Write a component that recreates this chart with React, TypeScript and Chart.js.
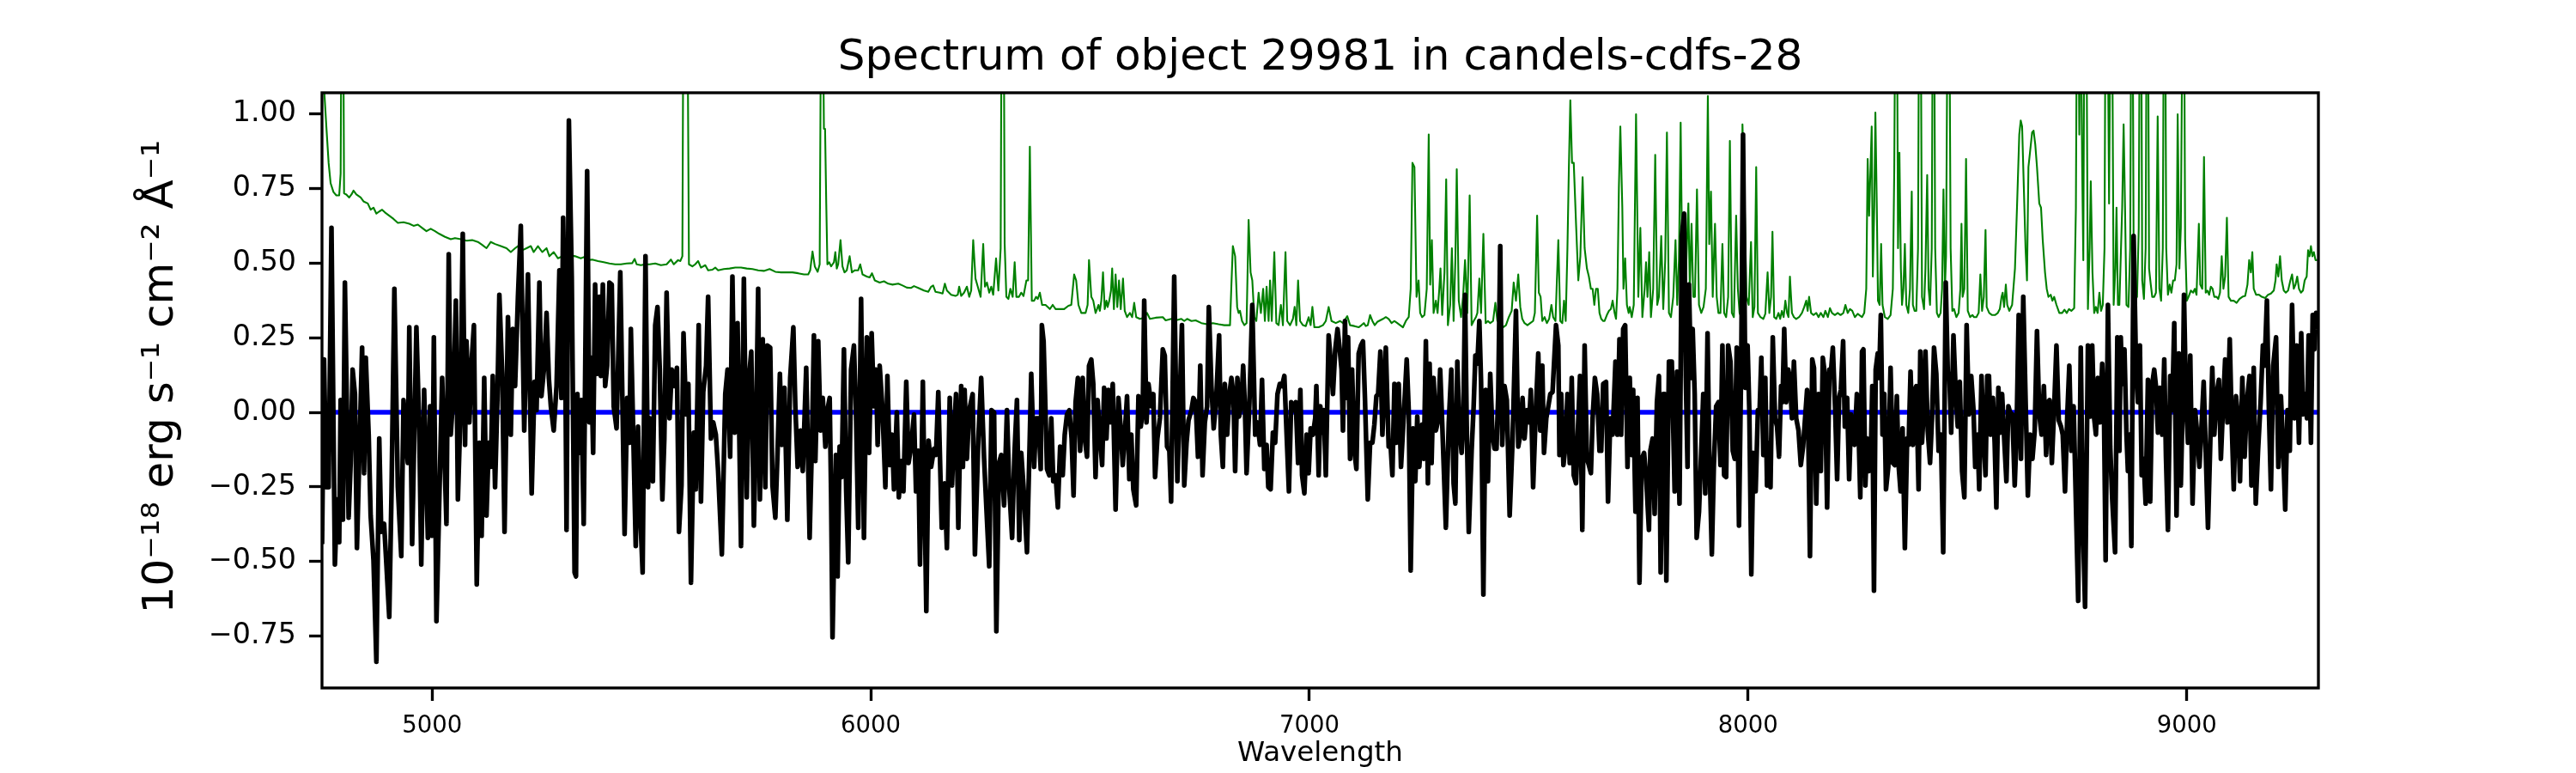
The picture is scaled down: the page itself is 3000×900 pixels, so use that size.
import { useEffect, useRef } from "react";
import { Chart, registerables } from "chart.js";

Chart.register(...registerables);

const TITLE = "Spectrum of object 29981 in candels-cdfs-28";
const X_LABEL = "Wavelength";
const Y_LABEL = "10\u207B\u00B9\u2078 erg s\u207B\u00B9 cm\u207B\u00B2 \u00C5\u207B\u00B9";

const xTicks = [5000, 6000, 7000, 8000, 9000];
const yTicks = [-0.75, -0.5, -0.25, 0, 0.25, 0.5, 0.75, 1.0];
const X_MIN = 4749;
const X_MAX = 9300;
const Y_MIN = -0.924;
const Y_MAX = 1.071;

// observed spectrum (black): [wavelength, flux]
const spectrum: [number, number][] = [
  [4749.1,-0.442],[4753.6,0.177],[4758.9,-0.251],[4764.1,-0.251],[4770.6,0.618],[4778.4,-0.510],[4783.6,-0.292],[4788.2,-0.435],[4791.5,0.041],[4796.7,-0.360],[4801.2,0.435],[4809.7,-0.353],[4814.3,-0.170],[4818.8,0.143],[4824.1,0.061],[4828.6,-0.455],[4840.4,0.217],[4844.9,-0.204],[4848.8,0.183],[4855.4,-0.075],[4859.9,-0.346],[4866.4,-0.496],[4873.0,-0.836],[4879.5,-0.088],[4884.0,-0.401],[4890.6,-0.374],[4895.8,-0.510],[4902.3,-0.686],[4907.5,-0.265],[4914.0,0.414],[4921.9,-0.251],[4929.7,-0.482],[4934.9,0.041],[4940.1,-0.088],[4944.7,-0.170],[4948.0,0.285],[4954.5,-0.442],[4964.2,0.285],[4970.8,-0.061],[4975.3,-0.510],[4981.8,0.075],[4990.3,-0.421],[4995.5,0.020],[5000.1,-0.414],[5004.0,0.251],[5009.9,-0.700],[5022.9,0.115],[5032.7,-0.374],[5037.9,0.530],[5042.5,-0.075],[5049.0,0.075],[5054.2,0.374],[5058.8,-0.292],[5064.0,-0.034],[5069.9,0.598],[5075.1,-0.109],[5078.3,0.238],[5084.9,-0.034],[5090.1,0.170],[5095.3,0.292],[5101.8,-0.577],[5107.7,-0.102],[5112.9,-0.414],[5118.8,0.115],[5124.0,-0.346],[5129.2,-0.102],[5133.8,-0.183],[5138.3,0.122],[5143.5,-0.251],[5148.8,0.041],[5153.3,0.394],[5159.8,0.129],[5165.1,-0.401],[5172.9,0.319],[5179.4,-0.075],[5184.0,0.279],[5189.2,0.088],[5195.7,0.387],[5202.2,0.625],[5210.0,-0.061],[5218.5,0.462],[5227.0,-0.272],[5233.5,0.102],[5238.1,0.007],[5244.6,0.435],[5249.2,0.054],[5255.7,0.156],[5260.9,0.333],[5266.1,0.115],[5270.7,0.020],[5277.2,-0.061],[5283.7,0.088],[5290.2,0.476],[5294.8,0.048],[5298.7,0.652],[5303.3,0.251],[5306.5,-0.394],[5311.8,0.978],[5318.3,0.455],[5324.8,-0.537],
  [5328.0,-0.550],[5331.2,0.061],[5335.8,-0.136],[5340.3,0.041],[5345.6,-0.374],[5353.4,0.808],[5358.6,-0.034],[5362.5,0.183],[5367.1,-0.136],[5371.6,0.428],[5376.9,0.129],[5381.4,0.387],[5384.7,0.122],[5389.2,0.428],[5394.5,0.088],[5399.0,0.156],[5404.2,0.435],[5409.5,0.428],[5414.0,0.020],[5420.5,-0.054],[5429.0,0.469],[5433.6,0.061],[5438.8,-0.408],[5444.7,0.048],[5449.9,-0.102],[5453.1,0.279],[5458.4,-0.061],[5464.2,-0.448],[5469.4,-0.048],[5474.7,-0.346],[5479.9,-0.537],[5486.4,0.523],[5492.3,-0.251],[5496.8,-0.020],[5503.3,-0.231],[5508.6,0.292],[5513.8,0.353],[5519.0,0.143],[5524.9,-0.292],[5529.4,-0.088],[5534.6,0.401],[5541.2,-0.020],[5546.4,0.143],[5551.6,0.088],[5558.1,0.149],[5562.7,-0.401],[5568.5,-0.245],[5573.1,0.265],[5579.0,-0.007],[5584.2,0.095],[5590.1,-0.571],[5596.6,-0.068],[5601.1,-0.258],[5607.7,0.292],[5612.9,-0.299],[5618.1,0.068],[5624.6,0.156],[5629.2,0.387],[5635.7,-0.088],[5640.9,-0.034],[5646.8,-0.075],[5652.0,-0.197],[5660.5,-0.476],[5668.3,0.061],[5673.5,0.143],[5679.4,-0.149],[5684.6,0.455],[5689.8,-0.068],[5696.3,0.299],[5704.2,-0.448],[5710.7,0.448],[5717.2,-0.285],[5722.4,0.115],[5727.6,0.204],[5733.5,-0.380],[5738.7,-0.041],[5743.3,0.414],[5747.2,-0.292],[5753.7,0.245],[5759.6,-0.251],[5764.1,0.224],[5770.7,0.217],[5775.9,-0.245],[5782.4,-0.353],[5787.6,-0.129],[5792.8,0.129],[5797.4,-0.109],[5803.3,0.082],[5809.8,-0.360],[5816.3,0.115],[5823.5,0.285],[5828.0,0.020],[5833.3,-0.183],[5839.8,-0.061],[5845.0,-0.197],[5852.8,0.149],[5860.6,-0.421],[5865.9,-0.102],[5870.4,0.258],[5873.7,-0.163],[5880.2,0.238],[5885.4,-0.061],[5890.6,0.048],[5896.5,-0.115],[5901.1,0.007],[5906.3,0.048],[5909.5,-0.265],[5912.8,-0.754],
  [5920.5,-0.143],[5924.4,-0.550],[5929.0,-0.115],[5933.6,-0.217],[5938.8,0.211],[5944.0,-0.265],[5948.6,-0.503],[5955.1,0.143],[5961.6,0.224],[5966.2,0.007],[5971.4,-0.387],[5977.9,0.380],[5984.4,-0.421],[5991.0,0.251],[5996.2,-0.136],[6002.0,0.265],[6007.2,0.020],[6011.8,0.143],[6015.7,-0.109],[6020.3,0.156],[6026.8,0.007],[6033.3,-0.251],[6037.9,0.122],[6043.1,-0.177],[6048.3,-0.075],[6052.9,-0.258],[6059.4,0.000],[6064.0,-0.285],[6069.2,-0.163],[6074.4,-0.265],[6080.9,0.102],[6086.1,-0.170],[6092.0,-0.115],[6098.5,-0.007],[6103.1,-0.265],[6108.3,-0.129],[6112.2,-0.510],[6118.7,0.102],[6126.6,-0.666],[6131.8,-0.095],[6137.6,-0.183],[6144.2,-0.122],[6148.7,-0.143],[6153.9,0.068],[6161.8,-0.387],[6168.3,-0.238],[6173.5,-0.455],[6180.0,0.048],[6185.2,-0.245],[6189.8,-0.061],[6194.4,0.061],[6199.6,-0.387],[6206.1,0.088],[6210.0,-0.183],[6213.9,0.075],[6219.1,-0.156],[6224.4,0.007],[6232.2,0.061],[6237.4,-0.476],[6245.2,-0.088],[6251.7,0.115],[6258.3,-0.156],[6263.5,-0.319],[6270.0,-0.516],[6275.2,0.007],[6281.1,0.000],[6286.3,-0.734],[6292.2,-0.170],[6297.4,-0.143],[6303.9,-0.312],[6310.4,0.007],[6315.6,-0.251],[6322.2,-0.421],[6327.4,-0.143],[6333.2,0.041],[6338.5,-0.428],[6343.0,-0.136],[6348.2,-0.251],[6356.1,-0.469],[6362.6,-0.075],[6365.8,0.129],[6372.4,-0.183],[6376.9,-0.020],[6382.1,-0.020],[6387.4,-0.190],[6390.0,0.292],[6393.9,0.238],[6396.5,0.102],[6401.7,-0.190],[6406.9,-0.211],[6411.5,-0.020],[6416.0,-0.231],[6421.3,-0.211],[6426.5,-0.319],[6431.7,-0.115],[6437.6,-0.211],[6442.1,-0.075],[6447.3,-0.007],[6452.6,0.007],[6457.8,-0.088],[6462.3,-0.279],[6466.9,0.034],[6472.1,0.115],[6477.3,-0.129],[6483.2,0.115],[6487.8,-0.088],[6493.0,-0.149],[6497.5,0.156],
  [6502.7,0.177],[6507.2,0.095],[6512.4,-0.217],[6517.0,0.041],[6522.2,-0.075],[6527.4,-0.177],[6532.0,0.082],[6537.2,-0.088],[6541.8,0.075],[6546.3,-0.034],[6551.6,0.095],[6558.1,-0.326],[6564.6,0.048],[6569.8,-0.054],[6574.4,-0.177],[6578.9,-0.075],[6584.2,0.054],[6589.4,-0.224],[6593.9,-0.075],[6598.5,-0.258],[6605.0,-0.312],[6610.2,0.054],[6615.5,-0.048],[6620.0,0.007],[6623.3,0.374],[6628.5,-0.034],[6633.1,0.095],[6639.6,0.020],[6644.1,0.061],[6648.1,-0.217],[6653.3,-0.088],[6659.1,-0.020],[6665.7,0.211],[6670.2,0.190],[6675.4,-0.115],[6680.7,-0.129],[6684.6,-0.299],[6691.7,0.455],[6698.9,-0.231],[6704.8,0.061],[6709.3,0.292],[6714.6,-0.245],[6719.8,-0.102],[6724.3,-0.027],[6730.9,0.007],[6735.4,0.048],[6740.6,0.034],[6745.9,-0.149],[6751.1,0.156],[6756.3,-0.211],[6761.5,-0.034],[6766.7,0.020],[6770.6,0.353],[6776.5,0.088],[6781.7,-0.054],[6787.6,0.048],[6794.1,0.258],[6798.0,-0.075],[6802.6,-0.183],[6807.1,0.095],[6812.4,-0.075],[6817.6,0.061],[6822.1,0.115],[6826.7,0.061],[6830.6,-0.197],[6835.8,0.115],[6839.7,-0.014],[6845.0,0.034],[6848.9,0.156],[6852.8,0.020],[6856.7,-0.204],[6863.2,0.034],[6869.7,0.360],[6876.3,-0.075],[6881.5,-0.034],[6887.3,-0.109],[6891.9,0.109],[6897.1,-0.190],[6902.3,-0.109],[6906.2,-0.251],[6911.5,-0.258],[6916.7,-0.068],[6921.9,-0.102],[6927.1,0.061],[6932.3,0.095],[6937.5,0.088],[6942.8,0.122],[6948.0,-0.075],[6953.2,-0.265],[6958.4,0.034],[6963.6,0.007],[6968.8,0.034],[6974.1,-0.170],[6979.3,0.075],[6983.2,-0.211],[6988.4,-0.272],[6993.6,-0.075],[6998.2,-0.204],[7002.7,-0.054],[7008.0,-0.075],[7013.2,-0.020],[7015.8,0.088],[7021.0,-0.211],[7024.9,0.020],[7028.8,-0.068],[7032.7,0.007],[7037.3,-0.211],[7043.8,0.258],[7048.4,0.170],[7053.6,0.061],[7058.8,0.211],[7064.0,0.279],[7068.6,0.217],[7073.2,0.143],[7076.4,-0.061],[7081.0,0.306],[7084.9,0.048],
  [7088.1,0.251],[7092.6,-0.156],[7097.2,0.143],[7102.4,-0.129],[7107.0,-0.190],[7112.2,0.197],[7117.4,0.224],[7122.0,0.238],[7126.5,0.048],[7133.0,-0.292],[7138.3,-0.102],[7143.5,-0.102],[7148.0,-0.041],[7152.6,0.054],[7156.5,0.061],[7161.7,0.204],[7166.3,-0.075],[7174.1,0.217],[7180.6,-0.115],[7185.2,-0.115],[7189.1,-0.211],[7193.7,0.095],[7198.2,-0.102],[7203.5,0.095],[7208.7,-0.183],[7215.2,-0.007],[7221.7,0.177],[7226.3,0.007],[7230.8,-0.530],[7236.1,-0.054],[7241.3,-0.231],[7245.8,-0.014],[7250.4,-0.183],[7256.9,-0.041],[7260.8,-0.156],[7265.4,0.238],[7270.0,-0.238],[7273.9,0.163],[7278.4,-0.170],[7283.0,0.115],[7288.2,-0.061],[7293.4,-0.027],[7298.0,0.143],[7302.6,-0.034],[7311.0,-0.387],[7317.6,-0.034],[7323.4,0.143],[7328.6,-0.238],[7332.6,-0.306],[7337.1,0.170],[7341.7,-0.048],[7346.9,-0.136],[7350.8,-0.020],[7354.7,0.394],[7358.6,-0.048],[7363.2,-0.401],[7369.7,-0.129],[7374.3,0.020],[7378.2,0.190],[7382.8,0.163],[7387.3,0.306],[7391.2,0.102],[7396.5,-0.611],[7401.7,0.075],[7406.9,-0.231],[7412.1,0.129],[7417.3,-0.075],[7421.9,-0.122],[7426.4,-0.122],[7430.4,0.061],[7434.9,0.557],[7439.5,-0.109],[7444.7,0.088],[7449.9,0.041],[7456.4,-0.346],[7463.0,-0.095],[7470.8,0.340],[7476.0,-0.115],[7480.6,-0.075],[7485.8,0.048],[7490.3,-0.088],[7495.6,0.007],[7500.8,-0.034],[7504.7,0.075],[7509.9,-0.251],[7516.4,0.020],[7521.6,0.197],[7526.2,-0.061],[7530.8,0.156],[7534.7,-0.136],[7539.9,-0.020],[7544.5,0.020],[7549.0,0.061],[7554.2,0.068],[7562.1,0.292],[7567.3,0.224],[7569.9,-0.143],[7573.8,0.061],[7579.0,-0.177],[7584.2,-0.102],[7588.1,0.061],[7593.4,-0.170],[7597.9,0.115],[7602.5,-0.211],[7607.7,-0.238],[7611.6,-0.075],[7616.8,0.122],[7622.0,-0.394],[7627.3,0.224],[7632.5,-0.156],[7637.0,-0.177],[7641.6,-0.204],[7645.5,-0.020],[7650.7,0.115],[7655.9,0.061],[7661.2,-0.129],[7665.1,-0.129],[7669.6,0.095],
  [7676.1,0.102],[7680.6,-0.299],[7685.8,-0.020],[7691.1,-0.075],[7697.6,0.170],[7702.1,-0.075],[7706.7,0.245],[7710.6,-0.075],[7715.2,0.279],[7719.7,0.292],[7725.0,-0.183],[7730.2,0.115],[7734.7,-0.143],[7738.0,0.075],[7743.2,-0.333],[7747.8,0.048],[7752.3,-0.571],[7757.6,-0.156],[7762.8,-0.136],[7767.3,-0.211],[7773.9,-0.394],[7777.1,-0.129],[7782.3,-0.088],[7786.9,-0.340],[7792.1,0.034],[7796.7,0.122],[7800.6,-0.537],[7806.5,0.061],[7809.7,0.061],[7813.6,-0.564],[7819.5,0.170],[7826.0,0.170],[7832.5,-0.265],[7837.8,0.136],[7843.6,-0.306],[7848.8,0.591],[7854.1,0.666],[7858.0,0.115],[7861.9,-0.183],[7865.1,0.428],[7869.7,0.115],[7873.6,0.279],[7878.2,0.061],[7882.7,-0.421],[7888.0,-0.333],[7893.2,-0.129],[7897.7,0.061],[7902.3,-0.272],[7907.5,0.265],[7911.4,-0.129],[7917.3,-0.476],[7921.9,-0.177],[7927.1,0.020],[7932.3,0.034],[7936.9,-0.177],[7941.4,0.224],[7945.3,-0.211],[7949.9,-0.217],[7954.5,0.224],[7959.7,0.170],[7964.9,-0.129],[7969.5,-0.156],[7974.0,0.217],[7979.2,-0.380],[7984.5,0.197],[7988.4,0.931],[7993.6,0.082],[7998.8,0.224],[8002.7,0.007],[8007.3,-0.543],[8011.8,-0.136],[8017.1,-0.265],[8022.3,0.007],[8026.2,0.007],[8030.1,0.183],[8034.7,-0.143],[8039.2,0.115],[8043.1,-0.245],[8047.7,-0.102],[8051.0,-0.251],[8056.2,0.251],[8061.4,-0.020],[8066.0,-0.048],[8070.5,-0.149],[8075.1,0.088],[8078.3,0.034],[8082.3,0.279],[8086.8,0.034],[8091.4,0.143],[8095.3,0.115],[8099.9,-0.020],[8104.4,0.170],[8109.6,-0.020],[8114.9,-0.061],[8120.1,-0.177],[8125.3,-0.115],[8130.5,-0.007],[8134.4,0.075],[8137.0,-0.054],[8141.0,-0.482],[8146.2,0.177],[8150.1,0.149],[8155.3,-0.306],[8160.5,0.061],[8165.7,-0.197],[8170.3,0.183],[8174.8,0.129],[8180.1,-0.319],[8185.3,0.143],[8189.2,0.143],[8193.1,0.217],[8198.3,0.014],[8202.9,-0.224],[8207.4,0.048],[8211.4,0.075],[8216.6,0.238],[8220.5,-0.048],[8225.7,0.048],[8230.3,-0.224],[8234.8,-0.007],[8238.7,-0.061],[8242.6,-0.109],[8247.9,0.061],[8251.8,-0.061],[8255.7,-0.285],[8259.6,0.204],
  [8262.8,0.211],[8267.3,-0.245],[8271.2,-0.088],[8275.8,-0.197],[8279.1,-0.190],[8283.0,0.088],[8286.9,-0.598],[8290.8,0.143],[8295.4,0.197],[8298.6,0.115],[8302.5,0.326],[8306.4,-0.075],[8310.4,0.061],[8314.3,-0.258],[8319.5,-0.183],[8324.7,0.149],[8329.9,-0.170],[8334.5,-0.177],[8339.0,0.054],[8343.0,-0.177],[8347.5,-0.265],[8352.1,-0.054],[8357.3,-0.455],[8362.5,-0.088],[8365.8,-0.109],[8370.3,0.136],[8375.6,-0.109],[8380.1,0.075],[8383.4,0.088],[8388.6,-0.258],[8392.5,0.204],[8396.4,-0.102],[8400.3,0.007],[8404.2,0.204],[8409.5,-0.061],[8414.7,-0.170],[8419.2,-0.020],[8423.8,0.217],[8429.0,0.129],[8434.2,-0.129],[8439.5,-0.075],[8444.7,-0.469],[8450.5,0.435],[8455.1,0.136],[8459.0,0.115],[8462.9,-0.068],[8468.1,0.258],[8473.4,0.061],[8477.9,-0.048],[8482.5,0.102],[8487.7,-0.197],[8492.9,-0.285],[8498.1,0.292],[8503.3,-0.007],[8508.6,0.122],[8513.8,0.007],[8517.7,-0.183],[8522.9,-0.075],[8526.8,-0.258],[8532.0,0.122],[8536.6,-0.075],[8541.2,-0.211],[8545.1,0.122],[8549.0,0.122],[8552.9,-0.075],[8558.1,0.048],[8562.0,-0.102],[8565.9,-0.319],[8570.5,0.082],[8575.1,-0.068],[8579.0,0.061],[8584.2,-0.102],[8588.8,-0.231],[8593.3,0.020],[8597.2,0.000],[8602.5,-0.007],[8607.7,-0.245],[8611.6,-0.088],[8616.8,0.326],[8622.0,-0.156],[8627.2,0.387],[8632.4,0.048],[8637.7,-0.279],[8642.9,-0.075],[8648.1,-0.156],[8653.3,-0.061],[8658.5,0.272],[8663.7,-0.007],[8669.0,-0.075],[8674.2,0.088],[8679.4,-0.143],[8683.3,0.034],[8687.2,0.041],[8692.4,-0.170],[8697.6,0.014],[8702.9,0.224],[8708.1,-0.027],[8713.3,-0.048],[8717.2,-0.075],[8722.4,-0.265],[8727.6,-0.007],[8732.2,0.156],[8736.8,-0.129],[8742.0,0.020],[8747.2,-0.306],[8752.4,-0.632],[8758.3,0.217],[8762.8,-0.346],[8768.1,-0.652],[8774.6,0.224],[8779.8,-0.014],[8784.4,0.224],[8788.9,-0.020],[8792.8,-0.075],[8797.4,0.115],[8801.9,-0.034],[8807.2,0.163],[8811.1,0.014],[8815.0,-0.496],[8820.2,0.360],[8825.4,-0.115],[8830.0,-0.292],[8836.5,-0.469],[8841.7,0.251],[8846.3,-0.129],
  [8849.5,0.251],[8852.7,0.095],[8857.9,0.211],[8862.5,-0.075],[8865.8,-0.197],[8869.7,-0.075],[8873.6,-0.448],[8878.8,0.591],[8884.0,0.170],[8888.6,0.034],[8893.1,0.224],[8897.1,-0.211],[8901.6,-0.156],[8906.2,-0.306],[8911.4,0.109],[8916.6,-0.299],[8921.2,0.095],[8925.7,0.143],[8929.7,0.088],[8934.2,-0.068],[8938.8,0.082],[8944.0,-0.075],[8948.6,0.177],[8952.5,-0.149],[8957.0,-0.394],[8962.3,0.122],[8966.8,0.007],[8971.4,0.299],[8976.6,-0.346],[8981.8,0.197],[8986.4,-0.245],[8990.9,0.048],[8993.6,0.394],[8998.1,0.048],[9002.7,-0.102],[9007.9,0.190],[9013.1,-0.306],[9019.0,0.007],[9023.5,-0.068],[9028.8,-0.183],[9034.0,-0.034],[9038.5,0.102],[9043.1,-0.129],[9048.3,-0.387],[9053.5,-0.102],[9058.1,0.149],[9062.7,-0.075],[9067.9,0.061],[9073.1,0.109],[9077.7,-0.156],[9082.2,0.007],[9087.4,0.177],[9092.7,-0.034],[9097.9,0.245],[9102.4,-0.034],[9107.0,-0.258],[9112.2,0.054],[9116.8,-0.020],[9121.3,-0.231],[9126.6,0.115],[9131.8,-0.149],[9137.0,0.034],[9142.9,0.122],[9147.4,-0.245],[9152.6,0.149],[9157.2,-0.306],[9162.4,-0.129],[9168.3,0.034],[9173.5,0.224],[9177.4,0.156],[9182.6,0.374],[9187.2,0.007],[9191.8,-0.258],[9197.0,0.156],[9203.5,0.251],[9208.7,-0.183],[9214.6,0.054],[9219.1,-0.102],[9224.4,-0.326],[9229.6,0.007],[9234.8,-0.129],[9240.0,0.360],[9245.2,-0.020],[9250.4,0.224],[9255.7,-0.102],[9260.9,0.265],[9264.8,-0.007],[9270.0,0.061],[9273.9,-0.020],[9277.8,0.258],[9283.0,-0.102],[9287.0,0.326],[9290.9,0.211],[9294.8,0.333],[9297.4,0.279],
];

// noise / sky spectrum (green): [wavelength, flux]
const noise: [number, number][] = [
  [4749,1.4],[4753.6,1.09],[4758.9,0.958],[4764.1,0.836],[4768.6,0.768],[4775.2,0.738],[4781.7,0.727],[4788.2,0.727],[4791.5,0.8],[4794.1,1.6],[4796.7,1.6],[4799.3,0.734],[4804.5,0.73],[4811.0,0.72],[4816.2,0.73],[4820.8,0.743],[4827.3,0.73],[4837.1,0.72],[4843.6,0.707],[4853.4,0.7],[4859.9,0.679],[4866.4,0.686],[4873.0,0.666],[4879.5,0.673],[4886.0,0.679],[4892.5,0.67],[4902.3,0.659],[4912.1,0.648],[4921.9,0.635],[4934.9,0.637],[4948.0,0.632],[4957.7,0.625],[4967.5,0.629],[4977.3,0.618],[4987.1,0.607],[4996.8,0.615],[5006.6,0.607],[5016.4,0.598],[5029.4,0.588],[5042.5,0.58],[5052.3,0.584],[5065.3,0.58],[5078.3,0.575],[5091.4,0.577],[5104.4,0.571],[5114.2,0.561],[5124.0,0.55],[5133.8,0.571],[5143.5,0.564],[5156.6,0.557],[5169.6,0.55],[5179.4,0.537],[5189.2,0.55],[5195.7,0.557],[5205.5,0.543],[5215.3,0.55],[5225.0,0.557],[5231.6,0.537],[5241.3,0.557],[5251.1,0.537],[5260.9,0.55],[5267.4,0.523],[5277.2,0.537],[5287.0,0.516],[5296.8,0.523],[5306.5,0.53],[5316.3,0.526],[5326.1,0.523],
  [5339.0,0.516],[5345.6,0.52],[5355.3,0.51],[5365.1,0.512],[5378.2,0.507],[5391.2,0.503],[5404.2,0.499],[5417.3,0.496],[5430.3,0.496],[5443.4,0.499],[5456.4,0.5],[5461.6,0.514],[5466.2,0.496],[5476.0,0.493],[5485.7,0.496],[5495.5,0.496],[5508.6,0.499],[5521.6,0.493],[5534.6,0.496],[5544.4,0.512],[5550.9,0.496],[5560.7,0.51],[5565.9,0.507],[5570.5,0.523],[5573.1,1.5],[5576.4,3.0],[5581.6,1.5],[5585.5,0.496],[5593.3,0.489],[5599.8,0.496],[5606.4,0.507],[5612.9,0.485],[5622.7,0.493],[5629.2,0.476],[5639.0,0.478],[5645.5,0.485],[5652.0,0.476],[5665.0,0.48],[5678.1,0.482],[5691.1,0.485],[5704.2,0.485],[5717.2,0.482],[5730.2,0.48],[5743.3,0.476],[5756.3,0.474],[5769.4,0.48],[5782.4,0.471],[5795.4,0.469],[5808.5,0.469],[5821.5,0.469],[5834.6,0.466],[5847.6,0.462],[5857.4,0.462],[5861.9,0.476],[5867.2,0.539],[5872.4,0.489],[5878.9,0.471],[5883.5,0.496],[5886.7,1.4],[5890.6,1.4],[5893.2,0.95],[5895.8,0.95],[5898.5,0.7],[5901.1,0.496],[5905.0,0.503],[5909.5,0.489],[5912.8,0.496],
  [5916.0,0.503],[5919.2,0.537],[5922.5,0.482],[5925.7,0.496],[5931.0,0.577],[5935.5,0.489],[5940.1,0.469],[5945.3,0.476],[5951.8,0.523],[5957.0,0.469],[5963.6,0.476],[5971.4,0.476],[5975.9,0.496],[5981.2,0.462],[5991.0,0.455],[5997.5,0.452],[6002.7,0.466],[6009.2,0.442],[6020.3,0.435],[6030.1,0.439],[6039.8,0.431],[6049.6,0.428],[6062.7,0.431],[6072.4,0.425],[6082.2,0.418],[6092.0,0.417],[6098.5,0.423],[6108.3,0.417],[6121.3,0.408],[6131.1,0.404],[6137.6,0.421],[6142.2,0.425],[6147.4,0.404],[6157.2,0.401],[6163.7,0.398],[6168.9,0.431],[6173.5,0.408],[6183.3,0.394],[6193.1,0.39],[6198.3,0.394],[6201.5,0.421],[6206.1,0.39],[6212.6,0.401],[6219.1,0.421],[6224.4,0.387],[6228.9,0.408],[6233.5,0.577],[6238.7,0.448],[6243.9,0.421],[6250.4,0.387],[6256.3,0.564],[6260.2,0.421],[6264.8,0.435],[6270.0,0.401],[6274.6,0.421],[6279.1,0.394],[6285.6,0.516],[6290.9,0.408],[6296.1,0.55],[6298.7,1.6],[6302.6,1.6],[6305.2,0.564],[6309.1,0.387],[6313.7,0.38],[6318.2,0.414],[6323.5,0.387],[6328.0,0.503],[6331.9,0.387],[6337.8,0.387],[6343.0,0.401],[6348.2,0.39],[6354.8,0.442],[6358.7,0.442],[6362.6,0.89],[6367.1,0.374],[6372.4,0.374],[6376.9,0.387],[6380.8,0.38],[6385.4,0.401],[6390.6,0.36],[6398.4,0.36],[6408.2,0.346],[6414.7,0.36],[6421.3,0.346],[6431.0,0.346],[6440.8,0.346],[6450.6,0.357],[6457.1,0.36],[6463.6,0.462],[6468.2,0.442],[6473.4,0.36],[6479.9,0.333],[6489.7,0.333],[6494.3,0.36],[6497.5,0.51],
  [6502.7,0.387],[6507.2,0.374],[6512.4,0.333],[6515.7,0.346],[6519.0,0.36],[6522.2,0.34],[6525.5,0.374],[6529.4,0.469],[6533.3,0.346],[6537.2,0.374],[6539.8,0.353],[6543.7,0.374],[6547.6,0.408],[6550.3,0.482],[6554.2,0.346],[6558.1,0.462],[6562.0,0.353],[6565.9,0.442],[6569.8,0.346],[6575.0,0.448],[6578.9,0.34],[6584.2,0.319],[6590.7,0.333],[6595.9,0.319],[6600.5,0.367],[6605.0,0.319],[6613.5,0.313],[6623.3,0.317],[6629.8,0.333],[6636.3,0.313],[6649.4,0.317],[6665.7,0.319],[6672.2,0.308],[6685.2,0.313],[6695.0,0.308],[6708.0,0.313],[6714.6,0.306],[6721.1,0.313],[6730.9,0.306],[6740.6,0.308],[6753.7,0.299],[6766.7,0.295],[6779.8,0.299],[6792.8,0.295],[6805.8,0.292],[6818.9,0.292],[6822.1,0.428],[6825.4,0.557],[6830.6,0.523],[6835.2,0.353],[6838.4,0.333],[6841.7,0.34],[6846.3,0.306],[6851.5,0.292],[6856.7,0.299],[6861.3,0.645],[6865.8,0.469],[6869.7,0.442],[6874.3,0.319],[6878.9,0.306],[6884.1,0.401],[6889.3,0.333],[6894.5,0.414],[6898.4,0.306],[6902.3,0.421],[6906.9,0.306],[6910.2,0.442],[6914.1,0.306],[6919.9,0.537],[6924.5,0.299],[6929.7,0.292],[6934.9,0.36],[6939.5,0.292],[6945.4,0.537],[6949.3,0.306],[6955.8,0.292],[6962.3,0.313],[6966.2,0.353],[6970.1,0.292],[6974.1,0.442],[6978.6,0.306],[6985.1,0.292],[6991.7,0.289],[6998.2,0.319],[7002.7,0.292],[7006.7,0.353],[7011.2,0.285],[7021.0,0.285],[7030.8,0.292],[7037.3,0.306],[7043.8,0.353],[7050.3,0.306],[7060.1,0.299],[7069.9,0.306],[7076.4,0.299],[7086.2,0.322],
  [7092.6,0.292],[7102.4,0.289],[7112.2,0.285],[7118.7,0.292],[7123.9,0.299],[7128.5,0.289],[7133.0,0.292],[7138.3,0.326],[7143.5,0.306],[7148.7,0.292],[7154.6,0.303],[7161.1,0.308],[7167.6,0.313],[7174.1,0.319],[7180.6,0.313],[7187.2,0.299],[7193.7,0.306],[7200.2,0.299],[7206.7,0.292],[7213.2,0.285],[7219.8,0.306],[7226.3,0.319],[7230.8,0.414],[7234.8,0.836],[7239.3,0.822],[7244.1,0.387],[7248.8,0.442],[7252.4,0.333],[7256.9,0.319],[7262.1,0.326],[7267.4,0.414],[7271.9,0.931],[7275.2,0.428],[7279.1,0.577],[7283.0,0.333],[7288.2,0.374],[7292.1,0.333],[7296.0,0.414],[7298.7,0.482],[7302.6,0.326],[7307.8,0.469],[7311.7,0.781],[7315.6,0.292],[7320.8,0.36],[7324.7,0.55],[7328.6,0.306],[7332.6,0.51],[7335.8,0.815],[7340.4,0.374],[7345.6,0.319],[7350.2,0.387],[7354.7,0.51],[7359.9,0.333],[7365.2,0.727],[7369.7,0.292],[7374.3,0.306],[7379.5,0.319],[7382.8,0.333],[7387.3,0.448],[7391.2,0.333],[7396.5,0.598],[7401.7,0.299],[7406.9,0.306],[7412.1,0.299],[7418.6,0.306],[7423.8,0.367],[7428.4,0.306],[7434.9,0.299],[7441.4,0.285],[7448.0,0.292],[7454.5,0.319],[7461.0,0.34],[7465.6,0.435],[7470.8,0.374],[7476.0,0.462],[7480.6,0.353],[7485.1,0.313],[7490.3,0.299],[7496.9,0.292],[7503.4,0.299],[7509.9,0.306],[7513.8,0.333],[7519.0,0.659],[7522.9,0.401],[7526.9,0.387],[7530.8,0.306],[7536.0,0.319],[7541.2,0.299],[7546.4,0.313],[7551.6,0.36],[7555.5,0.319],[7560.8,0.306],[7563.4,0.414],[7567.3,0.577],[7571.8,0.306],[7576.4,0.299],[7580.3,0.374],[7584.2,0.306],[7588.1,0.55],[7591.4,0.822],[7594.7,1.046],[7598.6,0.836],[7602.5,0.836],[7607.7,0.632],[7612.9,0.442],[7617.5,0.523],[7622.7,0.788],[7627.3,0.55],[7632.5,0.482],[7637.0,0.455],[7641.6,0.414],[7645.5,0.414],[7649.4,0.36],[7653.3,0.414],[7657.3,0.414],[7661.2,0.333],[7665.1,0.313],[7669.6,0.306],
  [7672.8,0.306],[7678.0,0.326],[7682.6,0.34],[7687.1,0.346],[7691.1,0.374],[7695.6,0.333],[7698.9,0.313],[7702.1,0.414],[7705.4,0.754],[7708.7,0.958],[7713.2,0.686],[7715.8,0.414],[7719.7,0.516],[7723.7,0.36],[7727.6,0.333],[7730.2,0.353],[7734.7,0.319],[7739.3,0.36],[7744.5,0.999],[7749.7,0.387],[7754.3,0.618],[7758.9,0.319],[7764.1,0.414],[7767.3,0.503],[7770.6,0.387],[7774.5,0.537],[7778.4,0.319],[7783.6,0.414],[7788.2,0.863],[7792.8,0.36],[7796.7,0.387],[7801.9,0.591],[7806.5,0.346],[7811.0,0.51],[7814.9,0.938],[7819.5,0.333],[7824.1,0.319],[7829.3,0.387],[7834.5,0.577],[7838.4,0.36],[7842.3,0.51],[7846.2,0.971],[7850.1,0.442],[7854.1,0.36],[7858.6,0.482],[7863.8,0.7],[7867.1,0.414],[7871.0,0.632],[7874.9,0.387],[7878.8,0.387],[7883.4,0.747],[7888.0,0.36],[7893.2,0.333],[7898.4,0.353],[7903.6,0.414],[7908.2,1.06],[7911.4,0.564],[7915.3,0.74],[7919.3,0.387],[7924.5,0.632],[7928.4,0.387],[7932.3,0.333],[7936.9,0.333],[7941.4,0.564],[7945.3,0.333],[7949.9,0.319],[7954.5,0.387],[7958.4,0.91],[7962.9,0.333],[7967.5,0.319],[7972.7,0.659],[7976.6,0.414],[7980.5,0.333],[7984.5,0.319],[7987.1,0.965],[7992.3,0.686],[7996.2,0.387],[8001.4,0.36],[8006.6,0.571],[8010.5,0.319],[8014.4,0.353],[8018.4,0.822],[8022.3,0.333],[8028.1,0.319],[8034.7,0.313],[8039.2,0.33],[8044.4,0.469],[8048.4,0.333],[8052.3,0.387],[8055.5,0.605],[8059.4,0.319],[8064.0,0.313],[8069.2,0.333],[8073.1,0.313],[8077.0,0.34],[8081.0,0.319],[8084.9,0.374],[8088.8,0.333],[8092.0,0.319],[8095.3,0.455],[8099.9,0.333],[8104.4,0.319],[8109.6,0.313],[8116.2,0.319],[8122.7,0.333],[8127.9,0.353],[8132.5,0.374],[8135.7,0.34],[8139.0,0.387],[8143.5,0.333],[8148.8,0.326],[8155.3,0.333],[8160.5,0.319],[8165.7,0.333],[8171.6,0.319],[8176.1,0.34],[8181.7,0.319],[8186.6,0.349],[8191.2,0.333],[8197.7,0.326],[8204.2,0.333],[8210.7,0.326],[8217.2,0.333],[8221.8,0.36],[8227.0,0.333],[8232.2,0.346],[8237.4,0.34],[8243.3,0.319],[8249.8,0.33],[8259.6,0.319],
  [8264.7,0.333],[8269.3,0.414],[8272.5,0.849],[8275.8,0.659],[8279.1,0.822],[8281.7,0.958],[8284.3,0.455],[8287.5,0.686],[8290.1,1.005],[8293.4,0.686],[8296.0,0.374],[8299.9,0.36],[8303.2,0.564],[8306.4,0.36],[8311.7,0.319],[8318.2,0.313],[8324.7,0.326],[8329.9,0.414],[8333.2,0.822],[8335.8,1.5],[8339.0,1.5],[8341.7,0.55],[8344.9,0.87],[8348.2,0.482],[8350.8,0.36],[8354.0,0.414],[8357.3,0.564],[8360.6,0.36],[8365.1,0.333],[8369.0,0.414],[8373.0,0.74],[8375.6,0.36],[8379.5,0.34],[8383.4,0.34],[8387.3,0.55],[8389.9,1.5],[8393.2,1.5],[8396.4,0.387],[8401.0,0.346],[8404.2,0.482],[8408.2,0.795],[8411.4,0.414],[8414.7,0.36],[8418.6,0.55],[8421.2,1.5],[8423.8,1.5],[8426.4,0.55],[8430.3,0.333],[8434.2,0.319],[8438.8,0.333],[8442.1,0.414],[8445.3,0.747],[8448.6,0.414],[8451.2,0.523],[8455.1,1.5],[8458.4,1.5],[8461.6,0.55],[8465.5,0.34],[8469.4,0.346],[8474.7,0.319],[8479.9,0.333],[8483.8,0.414],[8486.4,0.632],[8489.0,0.387],[8492.9,0.414],[8496.8,0.849],[8500.7,0.34],[8506.0,0.319],[8511.2,0.326],[8515.1,0.319],[8520.3,0.319],[8525.5,0.333],[8529.4,0.462],[8533.3,0.34],[8537.3,0.387],[8541.2,0.611],[8543.8,0.353],[8549.6,0.333],[8556.2,0.326],[8562.7,0.326],[8569.2,0.333],[8573.8,0.346],[8577.7,0.387],[8580.3,0.401],[8583.5,0.353],[8587.5,0.428],[8590.7,0.36],[8595.3,0.34],[8601.8,0.36],[8608.3,0.482],[8612.9,0.686],[8618.1,0.931],[8621.4,0.978],[8624.6,0.958],[8628.5,0.754],[8632.4,0.55],[8635.7,0.442],[8639.0,0.822],[8642.9,0.876],[8647.4,0.938],[8650.7,0.944],[8654.6,0.897],[8658.5,0.822],[8663.7,0.7],[8667.7,0.686],[8671.6,0.577],[8676.8,0.469],[8680.7,0.414],[8684.6,0.387],[8689.8,0.394],[8693.7,0.374],[8697.6,0.387],[8702.9,0.36],[8709.4,0.333],[8715.9,0.333],[8721.1,0.344],[8726.3,0.333],[8731.5,0.346],[8736.8,0.34],[8743.3,0.349],[8747.2,0.686],[8749.8,1.5],[8752.4,1.5],[8755.0,0.931],[8757.6,1.5],[8761.5,0.822],[8764.1,0.51],[8766.8,1.5],[8770.7,1.5],[8774.6,0.346],[8778.5,0.55],[8781.1,0.774],[8785.0,0.469],[8788.9,0.333],[8792.8,0.353],[8796.7,0.333],[8800.7,0.401],[8804.6,0.34],[8808.5,0.36],[8812.4,0.55],[8815.0,1.5],[8818.9,1.5],[8822.8,0.7],[8826.7,1.5],[8829.3,1.5],[8833.3,0.36],[8837.2,0.482],[8839.8,0.686],[8843.0,0.36],[8846.3,0.36],
  [8852.7,0.686],[8856.0,0.965],[8859.2,0.686],[8862.5,0.36],[8867.1,0.353],[8871.0,0.55],[8873.6,1.5],[8876.2,1.5],[8878.8,0.55],[8882.1,0.374],[8886.6,0.387],[8890.5,0.618],[8893.1,1.5],[8895.8,1.5],[8898.4,0.442],[8902.3,0.38],[8906.2,0.55],[8908.8,1.5],[8911.4,1.5],[8914.0,0.482],[8917.9,0.428],[8921.2,0.387],[8925.7,0.387],[8929.7,0.401],[8933.6,0.992],[8937.5,0.414],[8941.4,0.374],[8945.3,0.55],[8947.9,1.5],[8950.5,1.5],[8953.1,0.55],[8957.0,0.394],[8961.0,0.428],[8964.9,0.401],[8968.8,0.442],[8972.7,0.442],[8976.6,0.496],[8979.2,0.999],[8983.1,0.482],[8986.4,0.618],[8990.9,1.5],[8993.6,1.5],[8996.2,0.577],[9000.1,0.374],[9004.0,0.387],[9009.2,0.408],[9014.4,0.401],[9018.3,0.414],[9022.2,0.394],[9027.5,0.632],[9030.7,0.428],[9035.3,0.414],[9039.2,0.856],[9043.1,0.401],[9047.0,0.408],[9050.9,0.394],[9054.8,0.421],[9058.8,0.414],[9062.7,0.387],[9067.9,0.387],[9071.8,0.38],[9075.7,0.401],[9079.6,0.523],[9083.5,0.414],[9087.4,0.455],[9091.4,0.652],[9095.3,0.387],[9100.5,0.374],[9107.0,0.374],[9113.5,0.367],[9120.0,0.38],[9126.6,0.387],[9133.1,0.39],[9138.3,0.428],[9142.2,0.51],[9146.1,0.469],[9149.4,0.537],[9152.6,0.414],[9157.9,0.394],[9164.4,0.394],[9170.9,0.387],[9178.7,0.383],[9185.2,0.394],[9191.8,0.398],[9198.3,0.408],[9202.2,0.442],[9204.8,0.496],[9208.7,0.455],[9212.6,0.523],[9216.5,0.442],[9221.1,0.408],[9225.7,0.401],[9230.9,0.408],[9236.1,0.442],[9240.0,0.462],[9243.9,0.414],[9247.8,0.428],[9251.7,0.455],[9255.7,0.414],[9260.2,0.401],[9264.8,0.408],[9268.7,0.442],[9273.3,0.455],[9276.5,0.543],[9279.8,0.523],[9283.0,0.557],[9286.3,0.523],[9289.6,0.537],[9293.5,0.51],[9297.4,0.51],
];

// model (blue): [wavelength, flux]
const model: [number, number][] = [[4749, 0], [9300, 0]];

const toXY = (arr: [number, number][]) => arr.map(([x, y]) => ({ x, y }));
const fmtY = (v: number) => v.toFixed(2).replace("-", "\u2212");

const framePlugin = {
  id: "axesFrame",
  afterDatasetsDraw(chart: any) {
    const { ctx, chartArea: a } = chart;
    ctx.save();
    ctx.strokeStyle = "#000";
    ctx.lineWidth = 3.33;
    ctx.strokeRect(a.left, a.top, a.right - a.left, a.bottom - a.top);
    ctx.restore();
  },
};

export default function App() {
  const ref = useRef<HTMLCanvasElement | null>(null);

  useEffect(() => {
    if (!ref.current) return;
    Chart.defaults.font.family = "'DejaVu Sans', sans-serif";
    Chart.defaults.color = "#000";
    const chart = new Chart(ref.current, {
      type: "line",
      data: {
        datasets: [
          {
            label: "spectrum",
            data: toXY(spectrum),
            borderColor: "#000000",
            borderWidth: 5.5,
            pointRadius: 0,
            tension: 0,
            borderJoinStyle: "round",
            clip: 0,
          },
          {
            label: "model",
            data: toXY(model),
            borderColor: "#0000ff",
            borderWidth: 5.5,
            pointRadius: 0,
            tension: 0,
            clip: 0,
          },
          {
            label: "noise",
            data: toXY(noise),
            borderColor: "#008000",
            borderWidth: 2.1,
            pointRadius: 0,
            tension: 0,
            borderJoinStyle: "round",
            clip: 0,
          },
        ],
      },
      options: {
        animation: false,
        responsive: false,
        events: [],
        layout: { padding: { left: 0, right: 300, top: 0, bottom: 0 } },
        plugins: {
          legend: { display: false },
          tooltip: { enabled: false },
          title: {
            display: true,
            text: TITLE,
            color: "#000",
            fullSize: false,
            font: { size: 50, weight: "normal", lineHeight: 1 },
            padding: { top: 43, bottom: 15 },
          },
        },
        scales: {
          x: {
            type: "linear",
            min: X_MIN,
            max: X_MAX,
            afterBuildTicks: (s: any) => {
              s.ticks = xTicks.map((v) => ({ value: v }));
            },
            afterFit: (s: any) => {
              s.height = 99;
            },
            ticks: {
              color: "#000",
              font: { size: 27.5 },
              padding: 13,
              maxRotation: 0,
              autoSkip: false,
              callback: (v: any) => String(v),
            },
            grid: {
              drawOnChartArea: false,
              drawTicks: true,
              tickLength: 15,
              tickWidth: 3.33,
              tickColor: "#000",
            },
            border: { display: false },
            title: {
              display: true,
              text: X_LABEL,
              color: "#000",
              font: { size: 32.5, lineHeight: 1 },
              padding: { top: 0, bottom: 6 },
            },
          },
          y: {
            type: "linear",
            min: Y_MIN,
            max: Y_MAX,
            afterBuildTicks: (s: any) => {
              s.ticks = yTicks.map((v) => ({ value: v }));
            },
            afterFit: (s: any) => {
              s.width = 375;
            },
            ticks: {
              color: "#000",
              font: { size: 33.3 },
              padding: 15,
              autoSkip: false,
              callback: (v: any) => fmtY(Number(v)),
            },
            grid: {
              drawOnChartArea: false,
              drawTicks: true,
              tickLength: 15,
              tickWidth: 3.33,
              tickColor: "#000",
            },
            border: { display: false },
            title: {
              display: true,
              text: "  " + Y_LABEL,
              color: "#000",
              font: { size: 50, lineHeight: 1 },
              padding: { top: 163, bottom: 0 },
            },
          },
        },
      },
      plugins: [framePlugin],
    } as any);
    return () => chart.destroy();
  }, []);

  return (
    <div style={{ width: 3000, height: 900 }}>
      <canvas
        ref={ref}
        width={3000}
        height={900}
        style={{ position: "absolute", left: 0, top: 0, width: 3000, height: 900, display: "block" }}
      />
    </div>
  );
}
